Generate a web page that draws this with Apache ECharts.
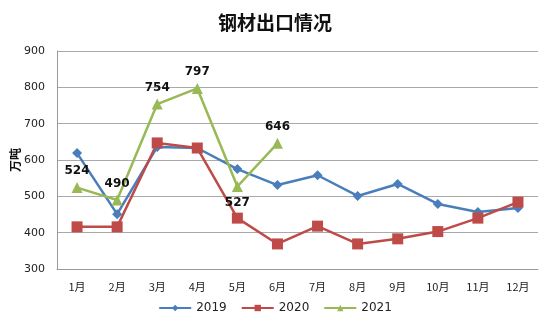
<!DOCTYPE html>
<html><head><meta charset="utf-8">
<script src="https://cdn.jsdelivr.net/npm/echarts@6/dist/echarts.min.js"></script>
<style>html,body{margin:0;padding:0;background:#fff}#c{width:550px;height:327px}</style>
</head><body><div id="c"></div>
<script>
const months = ['1月','2月','3月','4月','5月','6月','7月','8月','9月','10月','11月','12月'];
const s2019 = [619, 451, 636, 633, 575, 531, 558, 501, 534, 479, 457, 468];
const s2020 = [416, 416, 647, 633, 440, 369, 418, 369, 383, 403, 440, 484];
const s2021 = [524, 490, 754, 797, 527, 646];
const labelPos2021 = ['top', 'top', 'top', 'top', 'bottom', 'top'];
const yTicks = [300, 400, 500, 600, 700, 800, 900];

const chart = echarts.init(document.getElementById('c'));
const lbl = {show: true, color: '#111', fontWeight: 'bold', fontSize: 12, fontFamily: 'DejaVu Sans', distance: 5};
chart.setOption({
  animation: false,
  title: {text: '钢材出口情况', left: 'center', top: 8,
    textStyle: {fontSize: 19, fontWeight: 'bold', color: '#111', fontFamily: 'Noto Sans CJK SC'}},
  grid: {left: 57, right: 12, top: 51, bottom: 58, containLabel: false, outerBoundsMode: 'none'},
  legend: {bottom: 8, left: 'center', itemWidth: 32, itemHeight: 8, itemGap: 14,
    textStyle: {fontSize: 12, color: '#222', fontFamily: 'DejaVu Sans'},
    data: ['2019', '2020', '2021']},
  xAxis: {type: 'category', data: months, boundaryGap: true,
    axisLine: {lineStyle: {color: '#999'}}, axisTick: {show: false},
    axisLabel: {color: '#222', fontSize: 11, margin: 12, fontFamily: 'Noto Sans CJK SC'}},
  yAxis: {type: 'value', min: yTicks[0], max: yTicks[yTicks.length - 1], interval: 100,
    name: '万吨', nameLocation: 'middle', nameGap: 36, nameRotate: 90, nameMoveOverlap: false,
    nameTextStyle: {fontSize: 12, fontWeight: 'bold', color: '#111', fontFamily: 'Noto Sans CJK SC'},
    axisLine: {show: true, lineStyle: {color: '#999'}}, axisTick: {show: false},
    axisLabel: {color: '#222', fontSize: 11, margin: 12, fontFamily: 'DejaVu Sans'},
    splitLine: {lineStyle: {color: '#aaa'}}},
  series: [
    {name: '2019', type: 'line', data: s2019, symbol: 'diamond', symbolSize: 10,
      itemStyle: {color: '#4a7ebb'}, lineStyle: {width: 2.5, color: '#4a7ebb'}},
    {name: '2020', type: 'line', data: s2020, symbol: 'rect', symbolSize: 11,
      itemStyle: {color: '#be4b48'}, lineStyle: {width: 2.5, color: '#be4b48'}},
    {name: '2021', type: 'line', data: s2021.map((v, i) => ({value: v, label: Object.assign({}, lbl, {position: labelPos2021[i]})})),
      symbol: 'triangle', symbolSize: 11,
      itemStyle: {color: '#98b954'}, lineStyle: {width: 2.5, color: '#98b954'}, label: lbl}
  ]
});
</script></body></html>
